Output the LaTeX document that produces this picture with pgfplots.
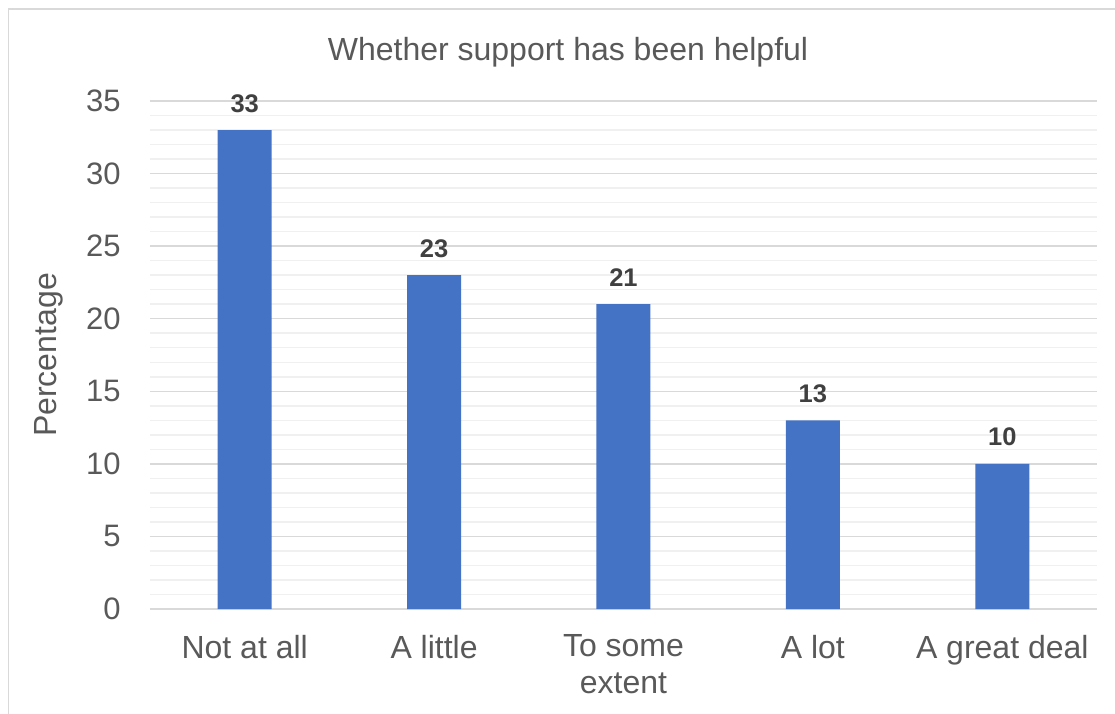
\documentclass[border=0pt]{standalone}
\usepackage{pgfplots}
\pgfplotsset{compat=1.18}
\usepackage{fontspec}
\setmainfont{Liberation Sans}
\definecolor{txt}{HTML}{595959}
\definecolor{lbl}{HTML}{404040}
\definecolor{barc}{HTML}{4472C4}
\definecolor{majg}{HTML}{D9D9D9}
\definecolor{ming}{HTML}{F0F0F0}
\begin{document}
\begin{tikzpicture}
\path[use as bounding box] (-75pt,-52pt) rectangle (482.5pt,304.5pt);
\draw[majg, line width=0.75pt] (-70.75pt,-60pt) -- (-70.75pt,300pt) -- (490pt,300pt);
\begin{axis}[
  at={(0,0)}, anchor=south west,
  scale only axis, width=473.5pt, height=254pt,
  ybar, bar width=27pt,
  xmin=-0.5, xmax=4.5, ymin=0, ymax=35,
  xtick={0,1,2,3,4},
  xticklabels={Not at all, A little, To some\\extent, A lot, A great deal},
  ytick={0,5,...,35}, minor y tick num=4,
  ymajorgrids, yminorgrids,
  major grid style={majg, line width=0.75pt},
  minor grid style={ming, line width=0.75pt},
  axis line style={draw=none},
  tick style={draw=none},
  /pgf/number format/assume math mode=true,
  yticklabel style={anchor=east, inner sep=0pt, xshift=-14.5pt, font=\fontsize{15.5pt}{18pt}\selectfont, text=txt},
  xticklabel style={anchor=north, inner sep=0pt, yshift=-8.5pt, align=center, font=\fontsize{16pt}{18.5pt}\selectfont, text=txt},
  title={Whether support has been helpful},
  title style={at={(axis description cs:0.4414,1)}, anchor=base, yshift=14.5pt, inner sep=0pt, font=\fontsize{16pt}{18pt}\selectfont, text=txt},
  ylabel={Percentage},
  every axis y label/.style={at={(axis description cs:-0.1072,0.5)}, rotate=90, anchor=center, inner sep=0pt, font=\fontsize{16pt}{18pt}\selectfont, text=txt},
  nodes near coords,
  every node near coord/.append style={anchor=base, yshift=9pt, inner sep=0pt, font=\bfseries\fontsize{12.75pt}{14pt}\selectfont, text=lbl},
]
\addplot[fill=barc, draw=none] coordinates {(0,33) (1,23) (2,21) (3,13) (4,10)};
\end{axis}
\end{tikzpicture}
\end{document}
